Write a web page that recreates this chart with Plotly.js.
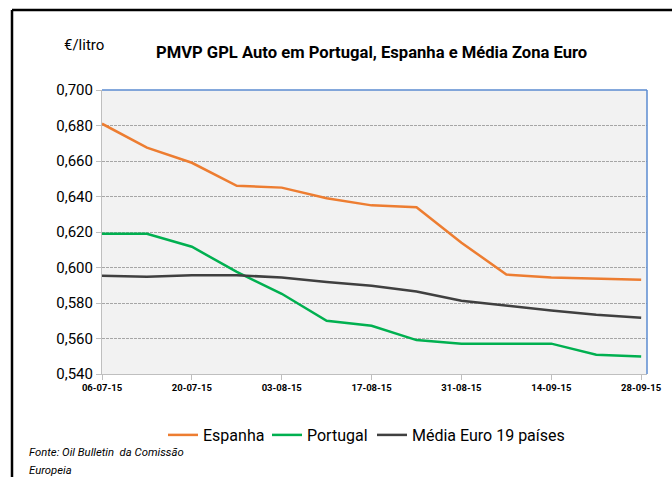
<!DOCTYPE html>
<html>
<head>
<meta charset="utf-8">
<script src="https://cdn.plot.ly/plotly-3.0.1.min.js"></script>
<style>
html,body{margin:0;padding:0;background:#fff;}
#chart{width:672px;height:477px;}
</style>
</head>
<body>
<div id="chart"></div>
<script>
const weeks = ["06-07-15","13-07-15","20-07-15","27-07-15","03-08-15","10-08-15","17-08-15","24-08-15","31-08-15","07-09-15","14-09-15","21-09-15","28-09-15"];
const tickLabels = ["06-07-15","20-07-15","03-08-15","17-08-15","31-08-15","14-09-15","28-09-15"];
const espanha = [0.681,0.6675,0.659,0.646,0.645,0.639,0.635,0.634,0.614,0.596,0.5944,0.5937,0.5931];
const portugal = [0.619,0.619,0.6117,0.5975,0.5852,0.570,0.5672,0.5591,0.5571,0.5571,0.5571,0.5509,0.5499];
const media = [0.5954,0.5948,0.5956,0.5956,0.5944,0.5918,0.5897,0.5865,0.5813,0.5785,0.5758,0.5734,0.5717];

const FONT = 'Roboto, "Liberation Sans", sans-serif';
const px2x = p => (p - 102) / 545;
const px2y = p => (374 - p) / 284;

const traces = [
  {x: weeks, y: espanha, name: 'Espanha', legend: 'legend', type: 'scatter', mode: 'lines', line: {color: '#ED7D31', width: 2.5}},
  {x: weeks, y: portugal, name: 'Portugal', legend: 'legend2', type: 'scatter', mode: 'lines', line: {color: '#00B050', width: 2.5}},
  {x: weeks, y: media, name: 'Média Euro 19 países', legend: 'legend3', type: 'scatter', mode: 'lines', line: {color: '#404040', width: 2.5}}
];

function leg(px) {
  return {
    orientation: 'h', x: px2x(px), xanchor: 'left', y: px2y(435), yanchor: 'middle',
    font: {family: FONT, size: 16, color: '#000'},
    itemwidth: 30, bgcolor: 'rgba(0,0,0,0)', borderwidth: 0
  };
}

const layout = {
  width: 672, height: 477,
  margin: {l: 102, r: 25, t: 90, b: 103},
  paper_bgcolor: '#ffffff',
  plot_bgcolor: '#F2F2F2',
  separators: ',.',
  font: {family: FONT, color: '#000'},
  showlegend: true,
  title: {
    text: '<b>PMVP GPL Auto em Portugal, Espanha e Média Zona Euro</b>',
    font: {family: FONT, size: 16.6, color: '#000'},
    x: 0.553, xanchor: 'center', xref: 'container',
    y: 0.891, yanchor: 'middle', yref: 'container'
  },
  xaxis: {
    type: 'category',
    range: [0, 12.13],
    tickmode: 'array', tickvals: tickLabels, ticktext: tickLabels,
    ticks: 'outside', ticklen: 5, tickcolor: '#BFBFBF',
    showline: true, linecolor: '#BFBFBF', linewidth: 1,
    showgrid: false, zeroline: false,
    tickfont: {family: FONT, size: 9.5, color: '#000', weight: 'bold'}
  },
  yaxis: {
    range: [0.54, 0.70],
    tickmode: 'linear', tick0: 0.54, dtick: 0.02,
    tickformat: '.3f',
    ticks: 'outside', ticklen: 5, tickcolor: '#BFBFBF',
    showline: true, linecolor: '#BFBFBF', linewidth: 1,
    showgrid: true, gridcolor: '#A6A6A6', gridwidth: 1, griddash: '3px,1px',
    zeroline: false,
    tickfont: {family: FONT, size: 15, color: '#000'}
  },
  legend: leg(163),
  legend2: leg(267),
  legend3: leg(372),
  shapes: [
    {type: 'line', xref: 'paper', yref: 'paper', x0: 0, x1: 1, y0: 1, y1: 1, line: {color: '#5B8BD0', width: 1.5}},
    {type: 'line', xref: 'paper', yref: 'paper', x0: 1, x1: 1, y0: 0, y1: 1, line: {color: '#5B8BD0', width: 1.5}},
    {type: 'line', xref: 'paper', yref: 'paper', x0: px2x(12), x1: px2x(672), y0: px2y(10), y1: px2y(10), line: {color: '#000', width: 2.5}},
    {type: 'line', xref: 'paper', yref: 'paper', x0: px2x(12), x1: px2x(12), y0: px2y(10), y1: px2y(477), line: {color: '#000', width: 2.5}}
  ],
  annotations: [
    {text: '€/litro', xref: 'paper', yref: 'paper', x: px2x(84), y: px2y(45), xanchor: 'center', yanchor: 'middle', showarrow: false, font: {family: FONT, size: 15, color: '#000'}},
    {text: '<i>Fonte: Oil Bulletin  da Comissão</i>', xref: 'paper', yref: 'paper', x: px2x(27), y: px2y(452), xanchor: 'left', yanchor: 'middle', showarrow: false, font: {family: FONT, size: 11.3, color: '#000'}},
    {text: '<i>Europeia</i>', xref: 'paper', yref: 'paper', x: px2x(27), y: px2y(470), xanchor: 'left', yanchor: 'middle', showarrow: false, font: {family: FONT, size: 11.3, color: '#000'}}
  ]
};

Plotly.newPlot('chart', traces, layout, {displayModeBar: false, staticPlot: true});
</script>
</body>
</html>
